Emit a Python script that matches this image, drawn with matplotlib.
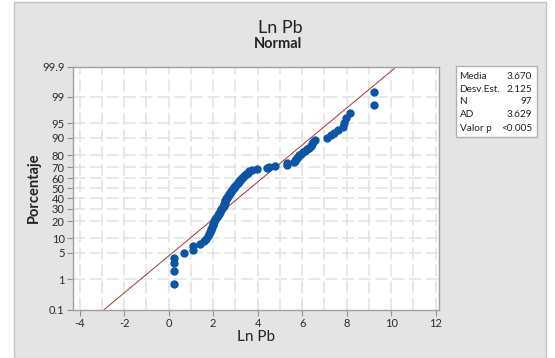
import matplotlib
matplotlib.use("Agg")
import matplotlib.pyplot as plt
from matplotlib.patches import Rectangle
from statistics import NormalDist

plt.rcParams['font.family'] = ['Lato', 'DejaVu Sans']

# ---- data (sorted Ln Pb values) ----
ln_pb = [0.26, 0.26, 0.26, 0.26, 0.69, 1.08, 1.10, 1.39, 1.61, 1.70,
         1.79, 1.82, 1.86, 1.90, 1.92, 1.95, 1.97, 2.00, 2.02, 2.05,
         2.08, 2.12, 2.16, 2.20, 2.25, 2.28, 2.30, 2.33, 2.36, 2.40,
         2.44, 2.47, 2.49, 2.50, 2.52, 2.53, 2.55, 2.57, 2.60, 2.63,
         2.66, 2.69, 2.72, 2.75, 2.78, 2.81, 2.85, 2.88, 2.92, 2.95,
         2.98, 3.02, 3.06, 3.10, 3.14, 3.18, 3.22, 3.26, 3.30, 3.34,
         3.38, 3.43, 3.48, 3.55, 3.62, 3.75, 3.97, 4.42, 4.50, 4.80,
         5.30, 5.32, 5.65, 5.68, 5.72, 5.78, 5.82, 5.88, 5.95, 6.05,
         6.12, 6.20, 6.30, 6.40, 6.45, 6.50, 6.58, 7.12, 7.30, 7.45,
         7.60, 7.85, 7.90, 7.95, 8.17, 9.25, 9.25]
mean_val = 3.670
sd_val = 2.125
stat_labels = ["Media", "Desv.Est.", "N", "AD", "Valor p"]
stat_values = ["3.670", "2.125", "97", "3.629", "<0.005"]
x_ticks = [-4, -2, 0, 2, 4, 6, 8, 10, 12]
pct_ticks = [0.1, 1, 5, 10, 20, 30, 40, 50, 60, 70, 80, 90, 95, 99, 99.9]
pct_labels = ["0.1", "1", "5", "10", "20", "30", "40", "50", "60", "70",
              "80", "90", "95", "99", "99.9"]

nd = NormalDist()
n = len(ln_pb)
z_pts = [nd.inv_cdf((i - 0.3) / (n + 0.4)) for i in range(1, n + 1)]
z_ticks = [nd.inv_cdf(p / 100.0) for p in pct_ticks]

W, H = 555, 358
fig = plt.figure(figsize=(W / 100, H / 100), dpi=100)
fig.patch.set_facecolor('white')

def fx(px):
    return px / W

def fy(py):
    return 1 - py / H

# gray panel
fig.patches.append(Rectangle((fx(14), 0), fx(546) - fx(14), fy(2), transform=fig.transFigure,
                             facecolor='#e4e4e4', edgecolor='#c4c4c4', lw=1.0, zorder=-5))

ax = fig.add_axes([fx(73), fy(309.5), fx(439) - fx(73), fy(66.7) - fy(309.5)])
ax.set_zorder(1)
ax.set_facecolor('white')

zlo, zhi = z_ticks[0], z_ticks[-1]
ax.set_ylim(zlo, zhi)
ax.set_xlim(-4.3, 12.15)

# grid
for xv in range(-4, 13):
    ax.axvline(xv, color='#e2e2e2', lw=1.1, ls=(0, (8, 3)), zorder=0)
for zv in z_ticks[1:-1]:
    ax.axhline(zv, color='#e2e2e2', lw=1.1, ls=(0, (8, 3)), zorder=0)

# fitted line
ax.plot([mean_val + zlo * sd_val, mean_val + zhi * sd_val], [zlo, zhi],
        color='#a83232', lw=0.7, zorder=2)

# points
ax.plot(ln_pb, z_pts, 'o', color='#0b56a4', ms=5, mec='#0b56a4', zorder=3)

ax.set_xticks(x_ticks)
ax.set_xticklabels([str(v) for v in x_ticks])
ax.set_yticks(z_ticks)
ax.set_yticklabels(pct_labels)
ax.tick_params(axis='both', labelsize=8, colors='#2a2a2a', length=4, width=0.8,
               direction='out', pad=2)
ax.tick_params(axis='both', color='#909090')
for sp in ax.spines.values():
    sp.set_color('#a0a0a0')
    sp.set_linewidth(1.0)

ax.set_xlabel("Ln Pb", fontsize=11, color='#222222', labelpad=1)
ax.set_ylabel("Porcentaje", fontsize=10.5, fontweight='bold', color='#222222', labelpad=1)

fig.text(fx(280), fy(28), "Ln Pb", ha='center', va='center', fontsize=13, color='#222222')
fig.text(fx(278), fy(44), "Normal", ha='center', va='center', fontsize=10.5,
         fontweight='bold', color='#222222')

# stats box
fig.patches.append(Rectangle((fx(455.5), fy(137)), fx(537) - fx(455.5), fy(66) - fy(137),
                             transform=fig.transFigure, facecolor='white',
                             edgecolor='#b0b0b0', lw=1.0, zorder=-1))
row_y = [76.7, 89.3, 101.7, 114.3, 128.3]
for lab, val, ry in zip(stat_labels, stat_values, row_y):
    fig.text(fx(459.5), fy(ry), lab, ha='left', va='center', fontsize=7.2, color='#222222')
    fig.text(fx(532), fy(ry), val, ha='right', va='center', fontsize=7.2, color='#222222')

fig.savefig("out.png", dpi=100, facecolor=fig.get_facecolor())
